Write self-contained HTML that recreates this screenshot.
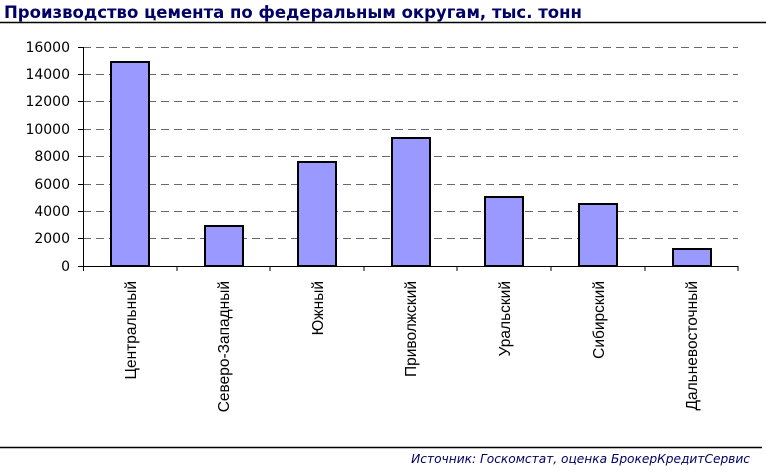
<!DOCTYPE html><html><head><meta charset="utf-8"><style>body{margin:0;background:#fff}</style></head><body>
<svg width="766" height="470" xmlns="http://www.w3.org/2000/svg" font-family="DejaVu Sans, Liberation Sans, sans-serif">
<text x="4" y="18" font-size="16.5" font-weight="bold" fill="#000066">Производство цемента по федеральным округам, тыс. тонн</text>
<line x1="0" y1="22.5" x2="766" y2="22.5" stroke="#000" stroke-width="1.5"/>
<g stroke="#666677" stroke-dasharray="8,5" stroke-width="1">
<line x1="83" y1="47.5" x2="738" y2="47.5"/><line x1="83" y1="74.5" x2="738" y2="74.5"/><line x1="83" y1="101.5" x2="738" y2="101.5"/><line x1="83" y1="129.5" x2="738" y2="129.5"/><line x1="83" y1="156.5" x2="738" y2="156.5"/><line x1="83" y1="184.5" x2="738" y2="184.5"/><line x1="83" y1="211.5" x2="738" y2="211.5"/><line x1="83" y1="238.5" x2="738" y2="238.5"/>
</g>
<g stroke="#000" stroke-width="1">
<line x1="83.5" y1="47" x2="83.5" y2="271"/><line x1="78" y1="266.5" x2="738" y2="266.5"/>
<line x1="78" y1="47.5" x2="83" y2="47.5"/><line x1="78" y1="74.5" x2="83" y2="74.5"/><line x1="78" y1="101.5" x2="83" y2="101.5"/><line x1="78" y1="129.5" x2="83" y2="129.5"/><line x1="78" y1="156.5" x2="83" y2="156.5"/><line x1="78" y1="184.5" x2="83" y2="184.5"/><line x1="78" y1="211.5" x2="83" y2="211.5"/><line x1="78" y1="238.5" x2="83" y2="238.5"/>
<line x1="177" y1="266" x2="177" y2="271"/><line x1="270" y1="266" x2="270" y2="271"/><line x1="364" y1="266" x2="364" y2="271"/><line x1="457" y1="266" x2="457" y2="271"/><line x1="551" y1="266" x2="551" y2="271"/><line x1="645" y1="266" x2="645" y2="271"/><line x1="738" y1="266" x2="738" y2="271"/>
</g>
<g font-size="14" text-anchor="end" fill="#000">
<text x="70" y="52">16000</text><text x="70" y="79">14000</text><text x="70" y="106">12000</text><text x="70" y="134">10000</text><text x="70" y="161">8000</text><text x="70" y="189">6000</text><text x="70" y="216">4000</text><text x="70" y="243">2000</text><text x="70" y="271">0</text>
</g>
<g fill="#9999ff" stroke="#000" stroke-width="2">
<rect x="111" y="62" width="38" height="204"/>
<rect x="205" y="226" width="38" height="40"/>
<rect x="298" y="162" width="38" height="104"/>
<rect x="392" y="138" width="38" height="128"/>
<rect x="485" y="197" width="38" height="69"/>
<rect x="579" y="204" width="38" height="62"/>
<rect x="673" y="249" width="38" height="17"/>
</g>
<g font-size="15.5" text-anchor="end" fill="#000" font-family="Liberation Sans, sans-serif">
<text transform="translate(136,281) rotate(-90)">Центральный</text>
<text transform="translate(229,281) rotate(-90)">Северо-Западный</text>
<text transform="translate(323,281) rotate(-90)">Южный</text>
<text transform="translate(416,281) rotate(-90)">Приволжский</text>
<text transform="translate(510,281) rotate(-90)">Уральский</text>
<text transform="translate(604,281) rotate(-90)">Сибирский</text>
<text transform="translate(697,281) rotate(-90)">Дальневосточный</text>
</g>
<line x1="0" y1="447.5" x2="762" y2="447.5" stroke="#000" stroke-width="1.5"/>
<text x="750" y="463" font-size="12.2" font-style="italic" text-anchor="end" fill="#000066">Источник: Госкомстат, оценка БрокерКредитСервис</text>
</svg></body></html>
